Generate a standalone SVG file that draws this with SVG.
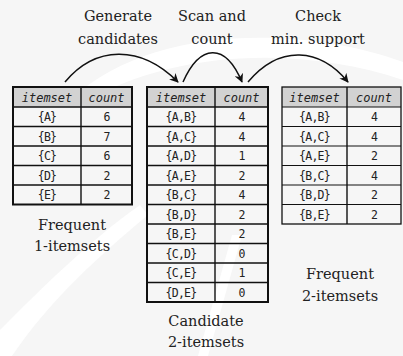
<svg xmlns="http://www.w3.org/2000/svg" width="403" height="356" viewBox="0 0 403 356">
  <defs>
    <marker id="arrow" viewBox="0 0 10 10" refX="9" refY="5" markerWidth="9" markerHeight="9" markerUnits="userSpaceOnUse" orient="auto">
      <path d="M0,0 L10,5 L0,10 L3,5 Z" fill="#111"/>
    </marker>
  </defs>
  <style>
    .bg { fill: #f6f6f6; }
    .swoosh { fill: #ffffff; }
    .head { fill: #d2d2d2; }
    .frame { fill: none; stroke: #111; stroke-width: 2; }
    .frame-thin { fill: none; stroke: #111; stroke-width: 1.3; }
    .rule { stroke: #111; stroke-width: 1.4; }
    .rule-thin { stroke: #111; stroke-width: 1.1; }
    .hdr { font-family: "DejaVu Sans Mono", monospace; font-style: italic; font-size: 12px; fill: #222; text-anchor: middle; }
    .cell { font-family: "DejaVu Sans Mono", monospace; font-size: 11.5px; letter-spacing: -0.7px; fill: #222; text-anchor: middle; }
    .cap { font-family: "DejaVu Serif", serif; font-size: 14.5px; fill: #222; text-anchor: middle; }
    .link { fill: none; stroke: #111; stroke-width: 1.5; }
  </style>

  <!-- faint background with light swooshes -->
  <rect class="bg" x="0" y="0" width="403" height="356"/>
  <path class="swoosh" d="M70,100 C150,25 300,25 403,62 L403,80 C300,45 170,50 82,104 Z"/>
  <path class="swoosh" d="M0,330 C40,290 90,240 140,205 L148,215 C100,255 50,300 12,356 L0,356 Z"/>
  <path class="swoosh" d="M198,356 L232,235 L242,235 L208,356 Z"/>

  <!-- connectors -->
  <g id="connectors">
    <path class="link" d="M65,82 C95,46 140,44 178,82" marker-end="url(#arrow)"/>
    <path class="link" d="M183,82 C200,44 225,42 242,82" marker-end="url(#arrow)"/>
    <path class="link" d="M248,82 C280,44 320,48 348,82" marker-end="url(#arrow)"/>
  </g>

  <!-- step labels -->
  <g id="label-generate">
    <text class="cap" x="118" y="21">Generate</text>
    <text class="cap" x="118" y="44">candidates</text>
  </g>
  <g id="label-scan">
    <text class="cap" x="212" y="21">Scan and</text>
    <text class="cap" x="212" y="44">count</text>
  </g>
  <g id="label-check">
    <text class="cap" x="318" y="21">Check</text>
    <text class="cap" x="318" y="44">min. support</text>
  </g>

  <!-- frequent 1-itemsets -->
  <g id="table-f1">
    <rect class="head" x="13" y="87" width="119" height="20"/>
    <line class="rule" x1="13" y1="107" x2="132" y2="107"/>
    <line class="rule" x1="13" y1="126.5" x2="132" y2="126.5"/>
    <line class="rule" x1="13" y1="146" x2="132" y2="146"/>
    <line class="rule" x1="13" y1="165.5" x2="132" y2="165.5"/>
    <line class="rule" x1="13" y1="185" x2="132" y2="185"/>
    <line class="rule" x1="81" y1="87" x2="81" y2="204.5"/>
    <rect class="frame" x="13" y="87" width="119" height="117.5"/>
    <text class="hdr" x="47" y="101.5">itemset</text>
    <text class="hdr" x="106.5" y="101.5">count</text>
    <text class="cell" x="47" y="121">{A}</text><text class="cell" x="106.5" y="121">6</text>
    <text class="cell" x="47" y="140.5">{B}</text><text class="cell" x="106.5" y="140.5">7</text>
    <text class="cell" x="47" y="160">{C}</text><text class="cell" x="106.5" y="160">6</text>
    <text class="cell" x="47" y="179.5">{D}</text><text class="cell" x="106.5" y="179.5">2</text>
    <text class="cell" x="47" y="199">{E}</text><text class="cell" x="106.5" y="199">2</text>
    <text class="cap" x="72" y="230">Frequent</text>
    <text class="cap" x="72" y="251">1-itemsets</text>
  </g>

  <!-- candidate 2-itemsets -->
  <g id="table-c2">
    <rect class="head" x="147" y="87" width="121" height="20"/>
    <line class="rule" x1="147" y1="107" x2="268" y2="107"/>
    <line class="rule" x1="147" y1="126.5" x2="268" y2="126.5"/>
    <line class="rule" x1="147" y1="146" x2="268" y2="146"/>
    <line class="rule" x1="147" y1="165.5" x2="268" y2="165.5"/>
    <line class="rule" x1="147" y1="185" x2="268" y2="185"/>
    <line class="rule" x1="147" y1="204.5" x2="268" y2="204.5"/>
    <line class="rule" x1="147" y1="224" x2="268" y2="224"/>
    <line class="rule" x1="147" y1="243.5" x2="268" y2="243.5"/>
    <line class="rule" x1="147" y1="263" x2="268" y2="263"/>
    <line class="rule" x1="147" y1="282.5" x2="268" y2="282.5"/>
    <line class="rule" x1="215" y1="87" x2="215" y2="302"/>
    <rect class="frame" x="147" y="87" width="121" height="215"/>
    <text class="hdr" x="181" y="101.5">itemset</text>
    <text class="hdr" x="241.5" y="101.5">count</text>
    <text class="cell" x="181" y="121">{A,B}</text><text class="cell" x="241.5" y="121">4</text>
    <text class="cell" x="181" y="140.5">{A,C}</text><text class="cell" x="241.5" y="140.5">4</text>
    <text class="cell" x="181" y="160">{A,D}</text><text class="cell" x="241.5" y="160">1</text>
    <text class="cell" x="181" y="179.5">{A,E}</text><text class="cell" x="241.5" y="179.5">2</text>
    <text class="cell" x="181" y="199">{B,C}</text><text class="cell" x="241.5" y="199">4</text>
    <text class="cell" x="181" y="218.5">{B,D}</text><text class="cell" x="241.5" y="218.5">2</text>
    <text class="cell" x="181" y="238">{B,E}</text><text class="cell" x="241.5" y="238">2</text>
    <text class="cell" x="181" y="257.5">{C,D}</text><text class="cell" x="241.5" y="257.5">0</text>
    <text class="cell" x="181" y="277">{C,E}</text><text class="cell" x="241.5" y="277">1</text>
    <text class="cell" x="181" y="296.5">{D,E}</text><text class="cell" x="241.5" y="296.5">0</text>
    <text class="cap" x="206" y="326">Candidate</text>
    <text class="cap" x="206" y="347">2-itemsets</text>
  </g>

  <!-- frequent 2-itemsets -->
  <g id="table-f2">
    <rect class="head" x="282" y="87" width="119" height="20"/>
    <line class="rule-thin" x1="282" y1="107" x2="401" y2="107"/>
    <line class="rule-thin" x1="282" y1="126.5" x2="401" y2="126.5"/>
    <line class="rule-thin" x1="282" y1="146" x2="401" y2="146"/>
    <line class="rule-thin" x1="282" y1="165.5" x2="401" y2="165.5"/>
    <line class="rule-thin" x1="282" y1="185" x2="401" y2="185"/>
    <line class="rule-thin" x1="282" y1="204.5" x2="401" y2="204.5"/>
    <line class="rule" x1="347" y1="87" x2="347" y2="224"/>
    <rect class="frame-thin" x="282" y="87" width="119" height="137"/>
    <text class="hdr" x="314.5" y="101.5">itemset</text>
    <text class="hdr" x="374" y="101.5">count</text>
    <text class="cell" x="314.5" y="121">{A,B}</text><text class="cell" x="374" y="121">4</text>
    <text class="cell" x="314.5" y="140.5">{A,C}</text><text class="cell" x="374" y="140.5">4</text>
    <text class="cell" x="314.5" y="160">{A,E}</text><text class="cell" x="374" y="160">2</text>
    <text class="cell" x="314.5" y="179.5">{B,C}</text><text class="cell" x="374" y="179.5">4</text>
    <text class="cell" x="314.5" y="199">{B,D}</text><text class="cell" x="374" y="199">2</text>
    <text class="cell" x="314.5" y="218.5">{B,E}</text><text class="cell" x="374" y="218.5">2</text>
    <text class="cap" x="340" y="279">Frequent</text>
    <text class="cap" x="340" y="301">2-itemsets</text>
  </g>
</svg>
